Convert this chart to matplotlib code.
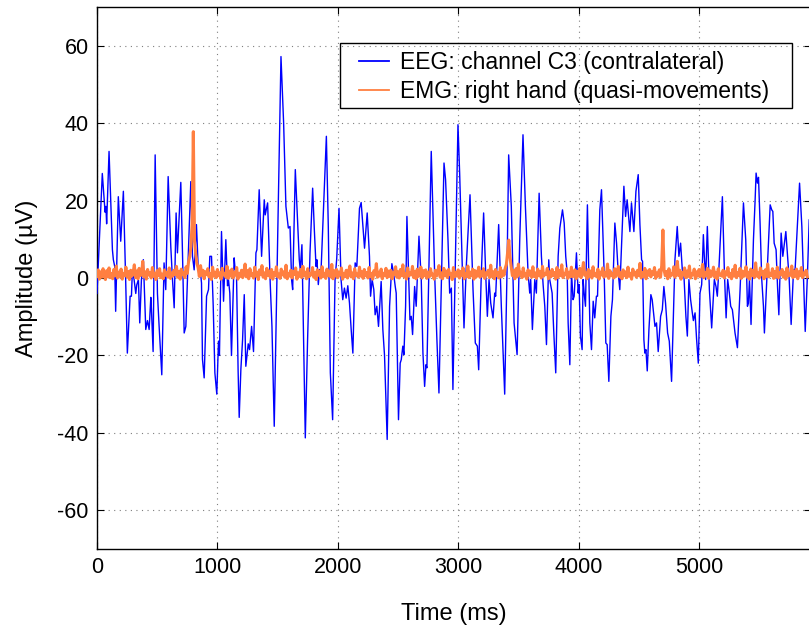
import numpy as np
import matplotlib
matplotlib.use("Agg")
import matplotlib.pyplot as plt
from matplotlib.patches import Rectangle

plt.rcParams['font.family'] = ['Liberation Sans', 'DejaVu Sans']
plt.rcParams['axes.unicode_minus'] = False

# ---------------- data ----------------
eeg_time = [0, 44, 67, 74, 80, 100, 128, 136, 147, 155, 177, 197, 219, 238, 252, 275, 286, 294, 308, 322,
            330, 344, 355, 369, 377, 385, 405, 419, 433, 447, 452, 466, 483, 502, 516, 538, 557, 571, 591, 613,
            627, 641, 657, 668, 696, 710, 724, 738, 760, 779, 793, 807, 826, 840, 857, 868, 876, 890, 910, 926,
            937, 951, 965, 979, 995, 1009, 1017, 1034, 1051, 1070, 1084, 1092, 1103, 1117, 1139, 1147, 1158, 1172, 1181, 1195,
            1209, 1223, 1236, 1256, 1267, 1284, 1300, 1320, 1328, 1347, 1367, 1389, 1397, 1417, 1439, 1453, 1472, 1528, 1550, 1569,
            1589, 1603, 1616, 1625, 1647, 1666, 1680, 1688, 1702, 1716, 1730, 1749, 1769, 1791, 1805, 1819, 1827, 1838, 1849, 1860,
            1905, 1921, 1938, 1957, 1977, 1991, 2010, 2027, 2041, 2055, 2069, 2083, 2097, 2111, 2125, 2144, 2158, 2180, 2194, 2222,
            2244, 2263, 2272, 2285, 2299, 2310, 2324, 2338, 2360, 2374, 2388, 2410, 2430, 2449, 2463, 2477, 2485, 2504, 2518, 2527,
            2540, 2549, 2563, 2574, 2588, 2599, 2610, 2621, 2638, 2651, 2674, 2693, 2707, 2721, 2732, 2740, 2776, 2804, 2823, 2840,
            2882, 2895, 2915, 2929, 2943, 2956, 2998, 3012, 3031, 3048, 3067, 3098, 3123, 3142, 3159, 3170, 3192, 3211, 3228, 3242,
            3256, 3270, 3289, 3303, 3311, 3336, 3358, 3386, 3405, 3419, 3441, 3464, 3489, 3511, 3538, 3558, 3580, 3594, 3602, 3616,
            3636, 3649, 3672, 3691, 3705, 3719, 3733, 3752, 3760, 3780, 3794, 3810, 3830, 3844, 3866, 3880, 3893, 3905, 3913, 3927,
            3941, 3954, 3963, 3982, 3996, 4004, 4015, 4029, 4037, 4046, 4057, 4073, 4093, 4107, 4121, 4134, 4148, 4157, 4176, 4190,
            4212, 4226, 4237, 4251, 4268, 4281, 4301, 4315, 4329, 4342, 4376, 4390, 4403, 4417, 4426, 4439, 4459, 4476, 4495, 4509,
            4523, 4531, 4542, 4550, 4559, 4570, 4584, 4600, 4611, 4625, 4634, 4647, 4661, 4681, 4695, 4708, 4722, 4739, 4753, 4772,
            4800, 4819, 4833, 4847, 4861, 4875, 4891, 4903, 4916, 4930, 4953, 4967, 4980, 4994, 5008, 5022, 5036, 5044, 5055, 5069,
            5086, 5105, 5127, 5141, 5152, 5166, 5194, 5211, 5225, 5238, 5252, 5263, 5277, 5299, 5319, 5341, 5369, 5388, 5402, 5410,
            5419, 5432, 5452, 5466, 5474, 5485, 5494, 5507, 5521, 5535, 5543, 5563, 5591, 5604, 5613, 5624, 5640, 5652, 5663, 5682,
            5696, 5721, 5735, 5749, 5765, 5785, 5798, 5835, 5854, 5868, 5882, 5901, 5915]
eeg_amp = [-4, 27, 17, 18.5, 14, 32.7, 7.3, 4.7, 3, -8.6, 21, 9.5, 22.4, -0.4, -19.4, -4.7, -4.7, 2, -0.4, -4,
           -1.8, -0.4, -11.6, -0.4, 2, 4.7, -13.3, -11, -13.3, -5, -8, -19, 31.8, -4, -12.5, -25, 3.9, -3, 26.2, 8,
           -0.4, -7.7, 16.8, 6.5, 24.7, 6.5, -14.2, -12.5, 8, 24.9, 5.6, 2.1, 13.8, 3, 2.1, -1.3, -21, -25.8, -4.7, -3,
           5.6, 5.6, -7, -24.5, -30, -16.3, -20, 12, -6, 9.9, -2, -0.4, -3.9, -20, 5.2, 2.2, 2.2, -24, -36, -23.5,
           -16, -4.3, -22.8, -17, -18.5, -12.5, -19, 6.5, 7.3, 22.8, 5.6, 20.2, 16.3, 19.4, -1.7, -12.5, -38.3, 57.2, 40, 18.5,
           12.9, 13.3, -0.4, -3, 28, 14.6, 4.7, 2.2, 8.6, -15.9, -41.3, -15.9, 6.5, 23.2, 12.5, 3, 4.7, -1.7, 2.2, 1.3,
           36.6, 13.3, -24.5, -36.6, -0.4, 5, 18, -0.4, -5.6, -2.6, -5.2, -2, -6.5, -13.3, -19.4, 3.9, 3, 18, 19.5, 7.7,
           16.8, 5.6, -4.7, -0.4, -3, -9.5, -7.3, -12.5, -0.9, -13.3, -20, -41.7, -7.3, 3.7, 1.3, -2.2, -3.9, -36.6, -22, -21.1,
           -17.6, -19.8, -7.3, 15.9, 1.3, -10.8, -9.9, -14.6, -2.2, -7.3, 10.8, -0.4, -19.4, -28, -22.4, -23.2, 32.7, 1.3, -15.9, -29.7,
           29.7, 25.4, 9.9, -3.9, -2.6, -28.8, 39.6, 27, 5.6, -12.9, 3, 21.5, -3, -16.8, -17.6, -23.7, 1.3, 16.8, 1.3, -9.9,
           -0.4, -6.5, -10.3, -3.9, -4.7, 13.8, -7.3, -30, 1.3, 31.8, 18.5, -11.6, -19.8, 9.9, 37, 18.5, 1.3, -3.9, -0.4, -13.3,
           -0.4, -3.9, 21.9, 5.6, -1.7, -7.3, -17.2, 4.7, -0.4, -3.9, -14.2, -24.5, 5.6, 12.9, 17.6, 14.2, 5.6, 1.3, -11.6, -22.4,
           1.3, -5.6, -4.7, 6.5, -3.9, -1.7, -15, -18.5, -0.4, -3.9, -7.3, 18.9, -11.6, -18.5, -6, -10.3, -4.7, -4.7, 17.6, 22.8,
           1.3, -16.8, -17.2, -26.7, -9.9, -5.6, 14.2, 9, 1.3, -3, 23.7, 15.9, 20.2, 15, 12, 19.4, 12, 22.4, 26.7, 13.8,
           4.7, 4.3, -15.9, -19.4, -18.5, -24, -13.3, -4.3, -5.6, -9.9, -12.5, -11.6, -19, -9.9, -8.2, -2.2, -6.5, -14.2, -16.3, -26.7,
           4.7, 13.3, 5.6, 9, 2.2, 0.4, -9.9, -15, -0.4, -5.6, -11, -9, -15.9, -22, -3.9, -1.7, 11.2, 5.6, -0.4, 13.3,
           -3, -12.9, -0.4, -2.2, -4.7, 3, 21, 1.3, -10.3, -0.4, -3.9, -7.3, -8.2, -14.2, -18, -3, 19.4, 9.9, -7.3, -6.5,
           -0.4, -12, 9.9, 20.2, 27.1, 24.5, 26, 14.2, -0.4, -7.3, -14.2, -0.4, 18.9, 17.6, 17.2, 9, 7.3, -2.2, -9.5, 11.6,
           5.6, 12, 5.6, -0.4, -12, 2.2, 2.2, 24.5, 13.3, -0.4, -13.8, 1.3, 15]

# EMG sampled every 10 ms from 0 to 5900 ms
emg_step_ms = 10
emg_amp = [
    0.5, 2.1, -0.3, 1.6, 0.2, 2.4, 0.8, -0.4, 1.9, 0.3, 2.6, 0.1, 1.2, -0.2, 2.2, 0.6, 3.1, 0.0, 1.5, 0.4,
    2.3, -0.3, 1.1, 0.7, 2.8, 0.2, 1.7, -0.4, 2.0, 0.5, 1.3, 3.4, 0.1, 1.8, -0.2, 2.5, 0.6, 1.0, 4.3, 0.3,
    1.6, -0.3, 2.2, 0.8, 1.4, 0.0, 2.7, 0.4, 1.2, -0.4, 1.9, 0.6, 2.4, 0.1, 1.0, -0.2, 2.1, 0.7, 1.5, 0.2,
    2.6, -0.1, 1.3, 0.5, 2.0, 0.9, 3.0, 0.2, 1.7, -0.3, 2.3, 0.8, 1.4, 0.1, 2.9, 1.2, 4.1, 5.5, 8.0, 14.0,
    37.8, 9.5, 6.2, 3.8, 2.6, 0.4, 3.2, 0.7, 2.0, -0.2, 1.6, 0.9, 2.4, 0.3, 1.1, -0.4, 2.8, 0.5, 1.5, 0.1,
    2.2, 0.6, 1.3, -0.3, 2.5, 0.8, 1.0, 0.2, 3.0, -0.1, 1.8, 0.5, 2.3, 0.0, 1.4, 0.7, 2.7, -0.3, 1.2, 0.4,
    2.0, 0.1, 1.6, 3.6, 0.3, 1.9, -0.2, 2.4, 0.6, 1.1, 0.0, 2.8, 0.5, 1.5, -0.4, 2.1, 0.9, 3.2, 0.2, 1.3,
    -0.2, 2.5, 0.7, 1.8, 0.1, 2.2, -0.3, 1.4, 0.6, 2.9, 0.3, 1.0, -0.1, 2.3, 0.8, 1.6, 0.2, 3.3, -0.2, 1.2,
    0.5, 2.0, 0.0, 1.7, 0.9, 2.6, -0.3, 1.3, 0.4, 2.2, 0.1, 3.0, 0.6, 1.5, -0.2, 2.4, 0.3, 1.1, 0.8, 2.7,
    0.2, 1.4, -0.4, 2.1, 0.7, 1.8, 0.0, 2.9, 0.4, 1.2, -0.1, 2.3, 0.6, 1.6, 0.3, 3.5, -0.2, 1.9, 0.5, 2.2,
    0.1, 1.5, 0.8, 2.6, -0.3, 1.2, 0.4, 2.0, 0.0, 1.7, 3.1, 0.3, 1.3, -0.2, 2.4, 0.7, 1.0, 0.2, 2.8, 0.5,
    1.6, -0.1, 2.2, 0.6, 1.4, 0.0, 2.7, 0.3, 1.1, -0.3, 1.9, 0.8, 3.7, 0.2, 1.5, 0.5, 2.3, -0.2, 1.2, 0.7,
    2.5, 0.1, 1.8, 0.4, 2.0, -0.2, 1.3, 0.9, 2.9, 0.2, 1.6, 0.0, 2.2, 0.6, 3.4, 0.3, 1.1, -0.3, 2.6, 0.5,
    1.4, 0.8, 3.0, 0.1, 1.7, -0.2, 2.3, 0.4, 1.2, 2.8, 0.0, 1.9, 0.6, 2.1, -0.1, 1.5, 0.3, 2.4, 0.7, 1.0,
    -0.3, 2.0, 0.5, 1.6, 3.2, 0.2, 1.3, -0.2, 2.5, 0.6, 1.8, 0.1, 2.2, 0.9, 1.1, -0.4, 2.7, 0.3, 1.4, 0.5,
    2.1, 0.0, 1.7, 0.7, 2.6, -0.2, 1.2, 0.4, 3.1, 0.1, 1.5, 0.6, 2.3, -0.3, 1.9, 0.3, 1.0, 2.8, 0.2, 1.6,
    0.5, 2.4, -0.1, 1.3, 0.8, 2.0, 0.1, 3.3, 0.4, 1.6, -0.2, 2.2, 0.6, 1.4, 0.0, 2.7, 0.3, 1.8, 0.7, 2.5,
    3.5, 6.5, 9.8, 5.5, 2.9, 0.6, 1.9, -0.2, 2.4, 0.3, 3.6, 0.8, 1.5, 0.1, 2.6, 0.5, 1.2, -0.3, 2.1, 0.7,
    1.8, 0.2, 2.9, 0.4, 1.3, -0.1, 2.3, 0.6, 1.7, 0.0, 3.0, 0.5, 1.1, 0.9, 2.5, -0.2, 1.6, 0.3, 2.2, 0.7,
    1.4, -0.3, 2.7, 0.2, 1.9, 0.6, 3.4, 0.1, 1.2, 0.8, 2.4, -0.1, 1.5, 0.4, 2.8, 0.3, 1.0, 2.1, -0.2, 1.7,
    0.5, 2.5, 0.1, 1.6, 4.0, 0.7, 1.3, -0.2, 2.2, 0.4, 1.8, 0.0, 2.9, 0.6, 1.1, 0.3, 2.3, -0.3, 1.5, 0.8,
    2.6, 0.2, 1.4, 0.5, 3.6, -0.1, 1.9, 0.7, 1.2, 0.0, 2.4, 0.4, 1.7, 3.0, 0.3, 1.3, -0.2, 2.1, 0.6, 1.6,
    0.1, 2.8, 0.5, 1.2, -0.3, 2.3, 0.8, 1.5, 0.2, 2.0, 0.6, 3.8, 0.0, 1.4, 0.4, 2.5, -0.2, 1.8, 0.7, 2.2,
    0.3, 1.6, 0.9, 2.7, -0.1, 1.3, 0.5, 2.1, 0.2, 3.2, 12.4, 2.0, 0.6, 1.7, -0.2, 2.4, 0.4, 1.1, 0.8, 2.9,
    0.2, 1.5, 4.3, 0.6, 2.0, -0.3, 1.4, 0.7, 2.6, 0.1, 1.8, 0.4, 3.1, 0.0, 1.2, 0.8, 2.3, -0.2, 1.6, 0.5,
    2.2, 0.3, 1.7, 3.5, 0.1, 1.3, 0.6, 2.5, -0.1, 1.9, 0.4, 1.1, 2.8, 0.2, 1.5, -0.3, 2.4, 0.7, 1.0, 0.5,
    2.0, 0.0, 1.6, 0.8, 2.7, 0.3, 1.2, -0.2, 2.2, 0.5, 3.3, 0.1, 1.4, 0.6, 2.5, -0.1, 1.8, 0.4, 1.1, 2.9,
    0.2, 1.5, -0.3, 2.3, 0.7, 1.9, 0.1, 3.9, 0.5, 1.3, 0.0, 2.6, 0.8, 1.6, -0.2, 2.1, 0.4, 3.6, 0.3, 1.2,
    0.6, 2.4, -0.1, 1.7, 0.3, 2.8, 0.0, 1.4, 0.9, 2.2, 0.2, 1.5, -0.3, 2.6, 0.5, 1.1, 0.7, 3.1, 0.1, 1.8,
    0.4, 2.3, -0.2, 1.6, 0.6, 2.7, 0.1, 1.3, 0.8, 2.0, 0.3]
emg_time = np.arange(len(emg_amp)) * emg_step_ms

x_ticks = [0, 1000, 2000, 3000, 4000, 5000]
y_ticks = [-60, -40, -20, 0, 20, 40, 60]
eeg_label = 'EEG: channel C3 (contralateral)'
emg_label = 'EMG: right hand (quasi-movements)'

# ---------------- figure ----------------
W, H = 809, 628
fig = plt.figure(figsize=(W / 100, H / 100), dpi=100)
left, right, top, bottom = 97, 811, 7, 549
ax = fig.add_axes([left / W, 1 - bottom / H, (right - left) / W, (bottom - top) / H])

ax.plot(eeg_time, eeg_amp, color='#0000FF', lw=1.0, label=eeg_label, zorder=3)
ax.plot(emg_time, emg_amp, color='#FF7F40', lw=2.2, label=emg_label, zorder=4)

ax.set_xlim(0, 5930)
ax.set_ylim(-70, 70)
ax.set_xticks(x_ticks)
ax.set_yticks(y_ticks)
ax.grid(True, color='#7f7f7f', linestyle=(0, (1, 4)), linewidth=0.8)
ax.tick_params(direction='in', length=5, width=0.8, labelsize=15.5, top=True, right=True, pad=6)
for s in ax.spines.values():
    s.set_linewidth(1.0)
    s.set_color('black')

ax.set_xlabel('Time (ms)', fontsize=17, labelpad=18)
ax.set_ylabel('Amplitude (µV)', fontsize=17, labelpad=14)

# legend box (frame drawn as a rectangle, like the reference)
def ax_x(px):
    return (px - left) / (right - left)

def ax_y(py):
    return (bottom - py) / (bottom - top)

box_l, box_r, box_t, box_b = 340, 792, 43, 108
ax.add_patch(Rectangle((ax_x(box_l), ax_y(box_b)), ax_x(box_r) - ax_x(box_l), ax_y(box_t) - ax_y(box_b),
                       transform=ax.transAxes, fill=False, edgecolor='black', lw=1.0, zorder=6))
leg = ax.legend(loc='upper left', bbox_to_anchor=(ax_x(359), ax_y(51)), borderaxespad=0,
                fontsize=16.5, frameon=False, handlelength=1.3, handletextpad=0.5,
                borderpad=0.0, labelspacing=0.25)
for h in leg.get_lines():
    h.set_linewidth(1.3)

fig.savefig('out.png', dpi=100)
